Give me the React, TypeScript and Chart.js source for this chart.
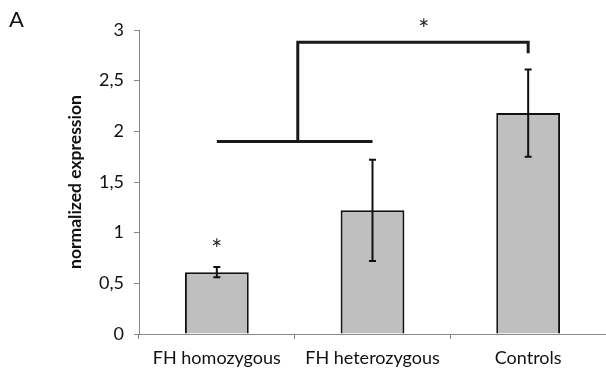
import React, { useEffect, useRef } from "react";
import { Chart, registerables } from "chart.js";

Chart.register(...registerables);

const categories = ["FH homozygous", "FH heterozygous", "Controls"];
const means = [0.61, 1.22, 2.18];
const errors = [0.05, 0.5, 0.43];
const yMin = 0;
const yMax = 3;
const yStep = 0.5;
// significance bracket (category index / value units)
const lowBracketFrom = 0;
const lowBracketTo = 1;
const lowBracketY = 1.9;
const stemIndex = 0.52;
const highBracketY = 2.88;
const highBracketTo = 2;
const highBracketDropY = 2.77;
// stars: [category index, value]
const starIdx = [0, 1.33];
const starVal = [0.9, 3.07];
const panelLabel = "A";

const FONT = "Lato, 'Open Sans', sans-serif";

export default function App() {
  const ref = useRef<HTMLCanvasElement>(null);
  useEffect(() => {
    document.body.style.margin = "0";
    const overlay = {
      id: "overlay",
      afterDatasetsDraw(chart: any) {
        const ctx = chart.ctx;
        const x = chart.scales.x;
        const y = chart.scales.y;
        ctx.save();
        // error bars
        ctx.strokeStyle = "#111";
        ctx.lineWidth = 2;
        means.forEach((m, i) => {
          const px = x.getPixelForValue(i);
          const top = y.getPixelForValue(m + errors[i]);
          const bot = y.getPixelForValue(m - errors[i]);
          ctx.beginPath();
          ctx.moveTo(px, top);
          ctx.lineTo(px, bot);
          ctx.moveTo(px - 3.5, top);
          ctx.lineTo(px + 3.5, top);
          ctx.moveTo(px - 3.5, bot);
          ctx.lineTo(px + 3.5, bot);
          ctx.stroke();
        });
        // brackets
        ctx.lineWidth = 3;
        ctx.strokeStyle = "#1a1a1a";
        ctx.lineCap = "butt";
        ctx.beginPath();
        ctx.moveTo(x.getPixelForValue(lowBracketFrom), y.getPixelForValue(lowBracketY));
        ctx.lineTo(x.getPixelForValue(lowBracketTo), y.getPixelForValue(lowBracketY));
        ctx.stroke();
        ctx.beginPath();
        ctx.moveTo(x.getPixelForValue(stemIndex), y.getPixelForValue(lowBracketY));
        ctx.lineTo(x.getPixelForValue(stemIndex), y.getPixelForValue(highBracketY));
        ctx.lineTo(x.getPixelForValue(highBracketTo), y.getPixelForValue(highBracketY));
        ctx.lineTo(x.getPixelForValue(highBracketTo), y.getPixelForValue(highBracketDropY));
        ctx.stroke();
        // stars
        ctx.fillStyle = "#222";
        ctx.font = `26px ${FONT}`;
        ctx.textAlign = "center";
        ctx.textBaseline = "middle";
        starIdx.forEach((si, k) => {
          ctx.fillText("*", x.getPixelForValue(si), y.getPixelForValue(starVal[k]) + 8);
        });
        // panel label
        ctx.font = `22px ${FONT}`;
        ctx.textAlign = "left";
        ctx.textBaseline = "alphabetic";
        ctx.fillStyle = "#111";
        ctx.fillText(panelLabel, 9, 27);
        ctx.restore();
      },
    };
    const chart = new Chart(ref.current!, {
      type: "bar",
      data: {
        labels: categories,
        datasets: [
          {
            data: means,
            backgroundColor: "#bfbfbf",
            borderColor: "#111",
            borderWidth: 2,
            categoryPercentage: 0.41,
            barPercentage: 1,
          },
        ],
      },
      options: {
        animation: false,
        responsive: false,
        layout: { padding: { top: 30, right: 0, left: 0, bottom: 0 } },
        plugins: { legend: { display: false }, tooltip: { enabled: false } },
        scales: {
          x: {
            grid: {
              display: true,
              drawOnChartArea: false,
              offset: true,
              tickLength: 5,
              color: "#888",
            },
            border: { color: "#888", width: 1 },
            ticks: {
              color: "#111",
              font: { family: FONT, size: 18 },
              padding: 8,
              maxRotation: 0,
            },
            afterFit(scale: any) {
              scale.height = 43;
            },
          },
          y: {
            min: yMin,
            max: yMax,
            grid: { display: true, drawOnChartArea: false, tickLength: 5, color: "#888" },
            border: { color: "#888", width: 1 },
            ticks: {
              stepSize: yStep,
              color: "#111",
              font: { family: FONT, size: 18 },
              padding: 10,
              callback: (v: any) => String(v).replace(".", ","),
            },
            title: {
              display: true,
              text: "normalized expression",
              color: "#111",
              font: { family: FONT, size: 17.5, weight: "bold" },
              padding: { top: 65, bottom: 0 },
            },
            afterFit(scale: any) {
              scale.width = 139;
            },
          },
        },
      },
      plugins: [overlay],
    });
    return () => chart.destroy();
  }, []);
  return <canvas ref={ref} width={606} height={377} style={{ display: "block" }} />;
}
